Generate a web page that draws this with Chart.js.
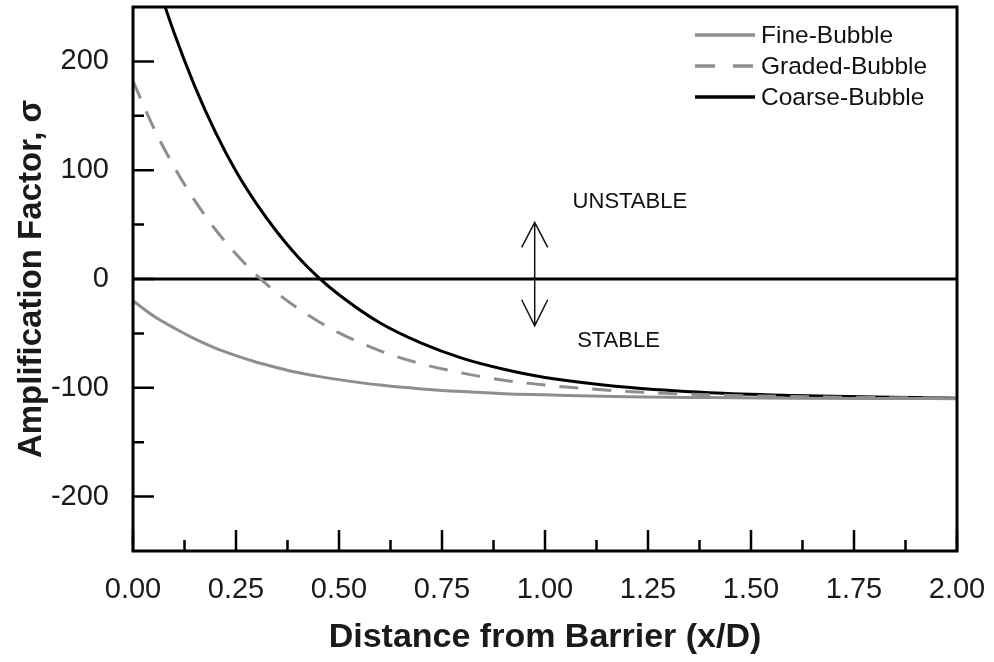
<!DOCTYPE html>
<html>
<head>
<meta charset="utf-8">
<script src="https://cdn.jsdelivr.net/npm/chart.js@4.4.1/dist/chart.umd.min.js"></script>
<style>
  html, body { margin: 0; padding: 0; background: #ffffff; }
  #wrap { width: 994px; height: 662px; }
</style>
</head>
<body>
<div id="wrap"><canvas id="c" width="994" height="662"></canvas></div>
<script>
// ---- data ----
const xValues = [0, 0.05, 0.1, 0.15, 0.2, 0.25, 0.3, 0.35, 0.4, 0.45, 0.5, 0.6, 0.7, 0.8, 0.9, 1.0, 1.2, 1.4, 1.6, 1.8, 2.0];
const fineBubble   = [-20, -34, -45, -55, -63.5, -70.5, -76.5, -81.5, -86, -89.5, -92.5, -97.5, -101, -103.5, -105.5, -106.5, -108.3, -109, -109.5, -109.8, -110];
const gradedBubble = [182, 139, 103, 72, 45.5, 23, 3.5, -13, -27, -39, -49.5, -66, -78, -86.5, -93, -97.5, -103.3, -106.5, -108, -109, -109.5];
const coarseBubble = [350, 283, 226, 177, 135, 99, 69, 43, 20.5, 1.5, -14.5, -40.5, -59, -73, -83, -90.5, -99.5, -104.5, -107, -108.5, -109.5];
const seriesNames = ['Fine-Bubble', 'Graded-Bubble', 'Coarse-Bubble'];
const xMajorTicks = [0, 0.25, 0.5, 0.75, 1.0, 1.25, 1.5, 1.75, 2.0];
const xMinorTicks = [0.125, 0.375, 0.625, 0.875, 1.125, 1.375, 1.625, 1.875];
const yMajorTicks = [-200, -100, 0, 100, 200];
const yMinorTicks = [-150, -50, 50, 150];
const xRange = [0, 2];
const yRange = [-250, 250];
const labelUnstable = 'UNSTABLE';
const labelStable = 'STABLE';
const xTitle = 'Distance from Barrier (x/D)';
const yTitle = 'Amplification Factor, σ';

const FONT = "'Liberation Sans', Arial, Helvetica, sans-serif";
const GRAY = '#8e8e8e';

function pts(ys) { return xValues.map((x, i) => ({ x: x, y: ys[i] })); }

const frameAndTicks = {
  id: 'frameAndTicks',
  beforeDatasetsDraw(chart) {
    const { ctx, chartArea: a, scales: { y } } = chart;
    ctx.save();
    ctx.strokeStyle = '#000';
    ctx.lineWidth = 3;
    const y0 = Math.round(y.getPixelForValue(0));
    ctx.beginPath(); ctx.moveTo(a.left, y0); ctx.lineTo(a.right, y0); ctx.stroke();
    ctx.restore();
  },
  afterDatasetsDraw(chart) {
    const { ctx, chartArea: a, scales: { x, y } } = chart;
    ctx.save();
    ctx.strokeStyle = '#000';
    ctx.lineWidth = 3;
    ctx.strokeRect(a.left, a.top, a.right - a.left, a.bottom - a.top);
    ctx.lineWidth = 2.5;
    ctx.beginPath();
    xMajorTicks.forEach(v => { const p = x.getPixelForValue(v); ctx.moveTo(p, a.bottom); ctx.lineTo(p, a.bottom - 21); });
    xMinorTicks.forEach(v => { const p = x.getPixelForValue(v); ctx.moveTo(p, a.bottom); ctx.lineTo(p, a.bottom - 11); });
    yMajorTicks.forEach(v => { const p = y.getPixelForValue(v); ctx.moveTo(a.left, p); ctx.lineTo(a.left + 21, p); });
    yMinorTicks.forEach(v => { const p = y.getPixelForValue(v); ctx.moveTo(a.left, p); ctx.lineTo(a.left + 11, p); });
    ctx.stroke();

    // double-headed arrow and labels
    const ax = x.getPixelForValue(0.975);
    const aTop = y.getPixelForValue(52);
    const aBot = y.getPixelForValue(-43);
    ctx.lineWidth = 1.5;
    ctx.strokeStyle = '#111';
    ctx.beginPath();
    ctx.moveTo(ax, aTop); ctx.lineTo(ax, aBot);
    ctx.moveTo(ax - 13, aTop + 25); ctx.lineTo(ax, aTop); ctx.lineTo(ax + 13, aTop + 25);
    ctx.moveTo(ax - 13, aBot - 26); ctx.lineTo(ax, aBot); ctx.lineTo(ax + 13, aBot - 26);
    ctx.stroke();
    ctx.fillStyle = '#111';
    ctx.font = '22px ' + FONT;
    ctx.textAlign = 'left';
    ctx.textBaseline = 'middle';
    ctx.fillText(labelUnstable, x.getPixelForValue(1.067), y.getPixelForValue(70.5));
    ctx.fillText(labelStable, x.getPixelForValue(1.078), y.getPixelForValue(-57));

    // legend
    const ds = chart.data.datasets;
    const lx0 = a.right - 262, lx1 = a.right - 202, tx = a.right - 196;
    ctx.font = '24.5px ' + FONT;
    ds.forEach((d, i) => {
      const ly = a.top + 28 + i * 31;
      ctx.strokeStyle = d.borderColor;
      ctx.lineWidth = 3.5;
      ctx.setLineDash(d.borderDash ? [20, 18] : []);
      ctx.beginPath(); ctx.moveTo(lx0, ly); ctx.lineTo(lx1, ly); ctx.stroke();
      ctx.setLineDash([]);
      ctx.fillStyle = '#111';
      ctx.fillText(d.label, tx, ly + 1);
    });
    ctx.restore();
  }
};

new Chart(document.getElementById('c'), {
  type: 'line',
  data: {
    datasets: [
      { label: seriesNames[0], data: pts(fineBubble), borderColor: GRAY, borderWidth: 3, pointRadius: 0, cubicInterpolationMode: 'monotone', fill: false },
      { label: seriesNames[1], data: pts(gradedBubble), borderColor: GRAY, borderWidth: 3, borderDash: [19, 14], pointRadius: 0, cubicInterpolationMode: 'monotone', fill: false },
      { label: seriesNames[2], data: pts(coarseBubble), borderColor: '#000', borderWidth: 3, pointRadius: 0, cubicInterpolationMode: 'monotone', fill: false }
    ]
  },
  options: {
    responsive: false,
    animation: false,
    devicePixelRatio: 1,
    layout: { padding: { left: 0, top: 7, right: 37, bottom: 0 } },
    plugins: { legend: { display: false }, tooltip: { enabled: false } },
    scales: {
      x: {
        type: 'linear', min: xRange[0], max: xRange[1],
        grid: { display: false, drawTicks: false },
        border: { display: false },
        afterBuildTicks: s => { s.ticks = xMajorTicks.map(v => ({ value: v })); },
        afterFit: s => { s.height = 111; s.paddingLeft = 0; s.paddingRight = 0; },
        ticks: { color: '#1a1a1a', padding: 22, maxRotation: 0, autoSkip: false,
                 font: { family: FONT, size: 29 }, callback: v => Number(v).toFixed(2) },
        title: { display: true, text: xTitle, color: '#1a1a1a', padding: { top: 0, bottom: 4 },
                 font: { family: FONT, size: 34, weight: 'bold' } }
      },
      y: {
        type: 'linear', min: yRange[0], max: yRange[1],
        grid: { display: false, drawTicks: false },
        border: { display: false },
        afterBuildTicks: s => { s.ticks = yMajorTicks.map(v => ({ value: v })); },
        afterFit: s => { s.width = 133; s.paddingTop = 0; s.paddingBottom = 0; },
        ticks: { color: '#1a1a1a', padding: 24, autoSkip: false,
                 font: { family: FONT, size: 29 }, callback: v => String(v) },
        title: { display: true, text: yTitle, color: '#1a1a1a', padding: { top: 12, bottom: 0 },
                 font: { family: FONT, size: 33, weight: 'bold' } }
      }
    }
  },
  plugins: [frameAndTicks]
});
</script>
</body>
</html>
